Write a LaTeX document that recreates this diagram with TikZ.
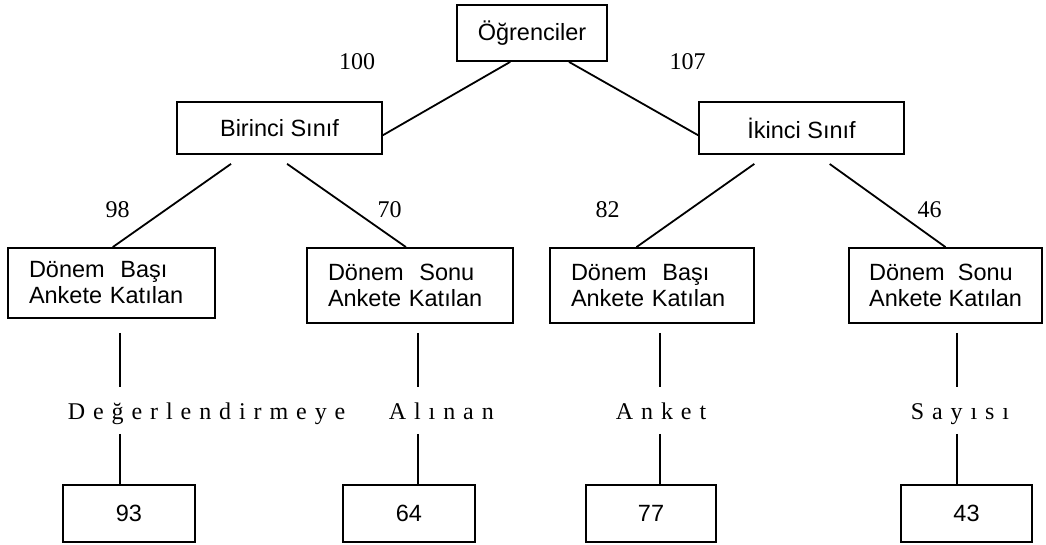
\documentclass[tikz,border=0pt]{standalone}
\usepackage{fontspec}
\setmainfont{Liberation Serif}
\newfontfamily\arialfont{Liberation Sans}
\usepackage{tikz}
\usetikzlibrary{calc}

\begin{document}
\begin{tikzpicture}[x = 0.5pt, y = -0.5pt, line width = 0.9pt,
	box/.style = {draw, inner sep = 0pt, font = \arialfont\fontsize{11.75}{13}\selectfont},
	twoline/.style = {box, align = left, inner xsep = 10.5pt, text width = #1},
	count/.style = {inner sep = 0pt, font = \fontsize{12}{14}\selectfont},
	word/.style = {anchor = base west, inner xsep = 0pt, inner ysep = 4pt, text height = 12pt, text depth = 2.5pt,
		font = \fontsize{12}{14}\selectfont\addfontfeature{LetterSpace = 33}}]
	\useasboundingbox (0, 0) rectangle (1046, 545);
	% boxes
	\node[box, minimum width = 75pt, minimum height = 28pt] (ogr) at (532, 33) {Öğrenciler};
	\node[box, minimum width = 102.5pt, minimum height = 26pt] (b1) at (279.5, 128) {Birinci Sınıf};
	\node[box, minimum width = 102.5pt, minimum height = 26pt] (b2) at (801.5, 128) {İkinci Sınıf};
	\node[twoline = 82.5pt, minimum height = 35pt] (l1) at (111.5, 283) {Dönem\ \ Başı\\Ankete Katılan};
	\node[twoline = 82pt, minimum height = 37.5pt] (l2) at (410, 285.5) {Dönem\ \ Sonu\\Ankete Katılan};
	\node[twoline = 81pt, minimum height = 37.5pt] (l3) at (652, 285.5) {Dönem\ \ Başı\\Ankete Katılan};
	\node[box, align = left, minimum width = 96.5pt, minimum height = 37.5pt] (l4) at (945.5, 285.5) {Dönem\ \ Sonu\\Ankete Katılan};
	\foreach \n/\x/\w/\t in {1/129/66/93, 2/409/66/64, 3/651/65/77, 4/966.5/65.5/43}{
		\node[box, minimum width = \w pt, minimum height = 28.5pt] (r\n) at (\x, 513.5) {\t};}
	% words between the rows
	\node[word] (w1) at (67, 420) {Değerlendirmeye};
	\node[word] (w2) at (388, 420) {Alınan};
	\node[word] (w3) at (615, 420) {Anket};
	\node[word] (w4) at (910, 420) {Sayısı};
	% numbers on the branches
	\foreach \t/\x/\y in {100/357/62, 107/687.5/62, 98/117.5/210, 70/389.5/210, 82/607.5/210, 46/929.5/210}{
		\node[count] (n\t) at (\x, \y) {\t};}
	% branches
	\draw (ogr.233) -- (b1.-4);
	\draw (ogr.-38) -- (b2.184);
	\draw[shorten <= 7.8pt] (b1.217) -- (l1.88);
	\draw[shorten <= 7.8pt] (b1.259) -- (l2.96);
	\draw[shorten <= 7.8pt] (b2.218) -- (l3.112);
	\draw[shorten <= 7.8pt] (b2.300) -- (l4.north);
	\foreach \n/\cx/\gap in {1/120/7, 2/418/4.5, 3/660/4.5, 4/957/4.5}{
		\coordinate (c\n) at (\cx, 0);
		\draw[shorten <= \gap pt] (l\n.south -| c\n) -- (w\n.north -| c\n);
		\draw (w\n.south -| c\n) -- (r\n.north -| c\n);}
\end{tikzpicture}
\end{document}
